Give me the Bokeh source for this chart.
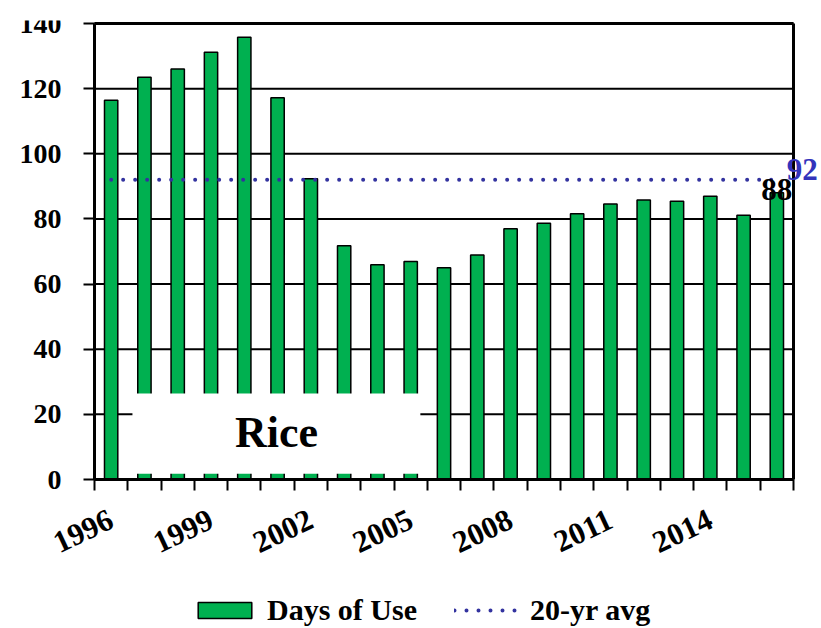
from bokeh.plotting import figure
from bokeh.models import (Range1d, FixedTicker, Legend, LegendItem, Label, BoxAnnotation)
from bokeh.embed import file_html
from bokeh.resources import INLINE

years = list(range(1996, 2017))
days_of_use = [116.4, 123.5, 126, 131.2, 135.8, 117.2, 92.3, 71.8, 65.9, 66.9,
               65, 68.9, 77, 78.7, 81.6, 84.6, 85.8, 85.4, 87, 81.1, 88]
avg_20yr = 92
label_years = [1996, 1999, 2002, 2005, 2008, 2011, 2014]
y_ticks = [0, 20, 40, 60, 80, 100, 120, 140]
crop_name = "Rice"

FONT = "Liberation Serif"
GREEN = "#00B050"
BLUE = "#33339F"

# chart area: 699 x 456 px starting at (94, 23); the frame covers the whole page so that
# axis labels, value labels, borders and the legend are drawn inside it without clipping
px_per_year = 699 / len(years)
px_per_unit = 456 / y_ticks[-1]
frame_left_pad = 94
frame_w = 820
frame_top_pad = 3
frame_bottom_pad = 149
frame_h = 456 + frame_top_pad + frame_bottom_pad
x0 = years[0] - 0.5
x_end = years[-1] + 0.5
x_start = x0 - frame_left_pad / px_per_year
p = figure(frame_width=frame_w, frame_height=frame_h, min_border_left=0, min_border_top=20,
           min_border_right=1, min_border_bottom=0,
           x_range=Range1d(x_start, x_start + frame_w / px_per_year),
           y_range=Range1d(-frame_bottom_pad / px_per_unit,
                           y_ticks[-1] + frame_top_pad / px_per_unit),
           output_backend="svg", toolbar_location=None)

# horizontal grid lines and the right/top borders of the chart area
p.segment(x0=[x0] * len(y_ticks), x1=[x_end] * len(y_ticks), y0=y_ticks, y1=y_ticks,
          line_color="black", line_width=2, level="underlay")
p.segment(x0=[x0, x_end], x1=[x_end, x_end], y0=[y_ticks[-1], 0],
          y1=[y_ticks[-1], y_ticks[-1]], line_color="black", line_width=3)

bars = p.vbar(x=years, top=days_of_use, width=0.4, fill_color=GREEN,
              line_color="black", line_width=1.5)
avg_line = p.line(x=[years[0], years[-1]], y=[avg_20yr, avg_20yr], line_color=BLUE,
                  line_width=4, line_dash="0 12", line_cap="round")

# Axes
boundaries = [y - 0.5 for y in years] + [x_end]
p.xaxis.fixed_location = 0
p.xaxis.ticker = FixedTicker(ticks=label_years, minor_ticks=boundaries)
p.xaxis.bounds = (x0, x_end)
p.xaxis.major_tick_line_color = None
p.xaxis.major_tick_out = 0
p.xaxis.major_tick_in = 0
p.xaxis.minor_tick_line_color = "black"
p.xaxis.minor_tick_line_width = 2
p.xaxis.minor_tick_out = 11
p.xaxis.minor_tick_in = 0
p.xaxis.axis_line_width = 3
p.xaxis.axis_line_color = "black"
p.xaxis.major_label_orientation = 0.44
p.xaxis.major_label_standoff = 27
p.xaxis.major_label_text_font = FONT
p.xaxis.major_label_text_font_style = "bold"
p.xaxis.major_label_text_font_size = "31px"
p.xaxis.major_label_text_color = "black"

p.yaxis.fixed_location = x0
p.yaxis.ticker = FixedTicker(ticks=y_ticks)
p.yaxis.bounds = (0, y_ticks[-1])
p.yaxis.minor_tick_line_color = None
p.yaxis.major_tick_out = 11
p.yaxis.major_tick_in = 0
p.yaxis.major_tick_line_width = 2
p.yaxis.major_tick_line_color = "black"
p.yaxis.axis_line_width = 3
p.yaxis.axis_line_color = "black"
p.yaxis.major_label_standoff = 22
p.yaxis.major_label_text_font = FONT
p.yaxis.major_label_text_font_style = "bold"
p.yaxis.major_label_text_font_size = "28px"
p.yaxis.major_label_text_color = "black"

p.xgrid.grid_line_color = None
p.ygrid.grid_line_color = None
p.outline_line_color = None

# Crop name box
box = BoxAnnotation(left=1996.64, right=2005.29, bottom=1.8, top=26.4,
                    fill_color="white", fill_alpha=1.0, line_color=None)
p.add_layout(box)
p.add_layout(Label(x=2000.97, y=14.5, text=crop_name, text_align="center",
                   text_baseline="middle", text_font=FONT, text_font_style="bold",
                   text_font_size="44px", text_color="black"))

# Value labels
p.add_layout(Label(x=years[-1], y=avg_20yr, text=str(avg_20yr), x_offset=10, y_offset=10,
                   text_align="left", text_baseline="middle", text_font=FONT,
                   text_font_style="bold", text_font_size="31px", text_color="#3333BB"))
p.add_layout(Label(x=years[-1], y=days_of_use[-1], text=str(round(days_of_use[-1])),
                   y_offset=3, text_align="center", text_baseline="middle", text_font=FONT,
                   text_font_style="bold", text_font_size="31px", text_color="black"))

legend = Legend(items=[LegendItem(label="Days of Use", renderers=[bars]),
                       LegendItem(label="20-yr avg", renderers=[avg_line])],
                orientation="horizontal", location=(frame_left_pad + 97, 1),
                glyph_width=67, glyph_height=20, label_standoff=9, spacing=37,
                label_text_font=FONT, label_text_font_style="bold",
                label_text_font_size="30px", label_text_color="black",
                border_line_color=None, background_fill_alpha=0, padding=0, margin=0)
p.add_layout(legend, "center")

open("out.html", "w").write(file_html(p, INLINE))
